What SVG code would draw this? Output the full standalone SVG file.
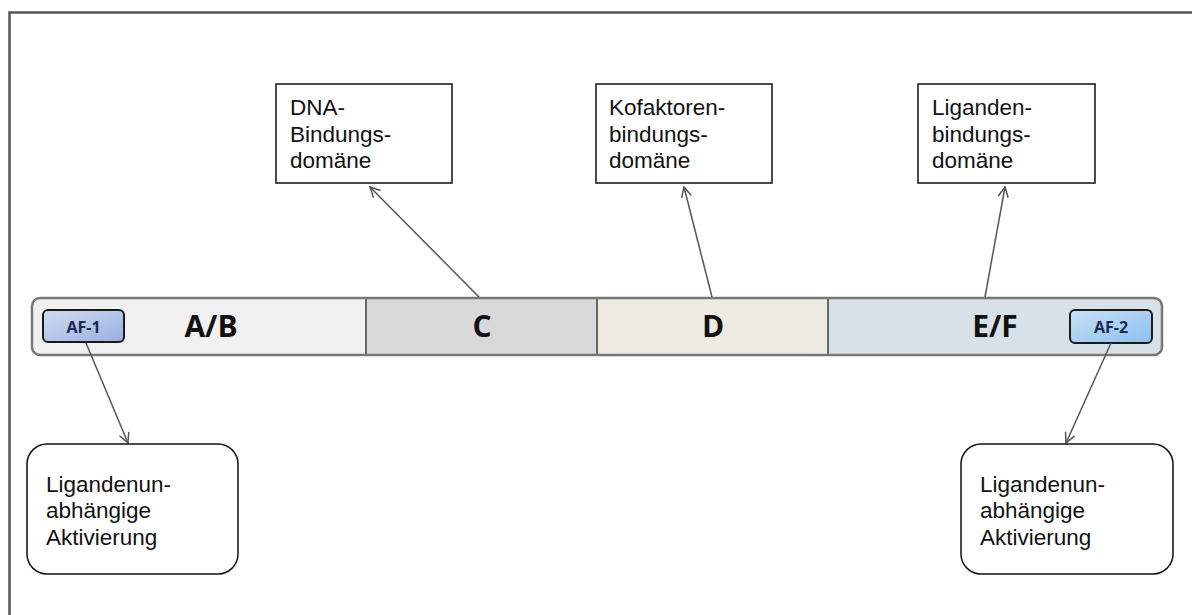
<svg xmlns="http://www.w3.org/2000/svg" width="1192" height="615" viewBox="0 0 1192 615">
<style>
.box{fill:#fff;stroke:#111;stroke-width:1.5}
.lbl{font-family:"Liberation Sans",Arial,sans-serif;font-size:22.5px;fill:#111}
.seg{font-family:"Open Sans","Liberation Sans",sans-serif;font-weight:bold;font-size:30px;fill:#111;text-anchor:middle}
.af{font-family:"Open Sans","Liberation Sans",sans-serif;font-weight:bold;font-size:16px;fill:#1a2a50;text-anchor:middle}
.afbox{stroke:#1a1a1a;stroke-width:2}
.conn line{stroke:#555;stroke-width:1.5;marker-end:url(#arr)}
</style>
<defs>
<marker id="arr" viewBox="0 0 12 12" refX="11" refY="6" markerWidth="12" markerHeight="12" markerUnits="userSpaceOnUse" orient="auto">
<path d="M1,1 L11,6 L1,11" fill="none" stroke="#555" stroke-width="1.5"/>
</marker>
<linearGradient id="g1" x1="0" y1="0" x2="1" y2="1">
<stop offset="0" stop-color="#d0dcf2"/><stop offset="1" stop-color="#98b0e0"/>
</linearGradient>
<linearGradient id="g2" x1="0" y1="0" x2="1" y2="1">
<stop offset="0" stop-color="#c8e0f6"/><stop offset="1" stop-color="#8cc0ee"/>
</linearGradient>
<clipPath id="barclip"><rect x="32" y="298" width="1130" height="57" rx="8"/></clipPath>
</defs>
<rect width="1192" height="615" fill="#fff"/>
<g id="frame"><path d="M9.5,615 L9.5,12.5 L1192,12.5" fill="none" stroke="#555" stroke-width="2.5"/></g>

<g id="bar">
<g clip-path="url(#barclip)">
<rect x="32" y="298" width="334" height="57" fill="#f0f0f0"/>
<rect x="366" y="298" width="231" height="57" fill="#d8d8d8"/>
<rect x="597" y="298" width="231" height="57" fill="#eeece2"/>
<rect x="828" y="298" width="334" height="57" fill="#d8e0e8"/>
</g>
<line x1="366" y1="298" x2="366" y2="355" stroke="#666" stroke-width="2"/>
<line x1="597" y1="298" x2="597" y2="355" stroke="#666" stroke-width="2"/>
<line x1="828" y1="298" x2="828" y2="355" stroke="#666" stroke-width="2"/>
<rect x="32" y="298" width="1130" height="57" rx="8" fill="none" stroke="#777" stroke-width="2.5"/>
</g>
<g id="seg-ab"><text class="seg" x="211" y="337">A/B</text></g>
<g id="seg-c"><text class="seg" x="482" y="337">C</text></g>
<g id="seg-d"><text class="seg" x="713" y="337">D</text></g>
<g id="seg-ef"><text class="seg" x="995" y="337">E/F</text></g>

<g id="af1"><rect class="afbox" x="43" y="310" width="81" height="32" rx="5" fill="url(#g1)"/><text class="af" x="83.5" y="333">AF-1</text></g>
<g id="af2"><rect class="afbox" x="1070" y="310" width="82" height="33" rx="5" fill="url(#g2)"/><text class="af" x="1111" y="333">AF-2</text></g>

<g class="conn" id="connectors">
<line x1="479" y1="297" x2="370" y2="187"/>
<line x1="712" y1="297" x2="684" y2="187"/>
<line x1="985" y1="297" x2="1005" y2="187"/>
<line x1="86" y1="343" x2="128" y2="443"/>
<line x1="1111" y1="343" x2="1066" y2="443"/>
</g>

<g id="dna"><rect class="box" x="276" y="84" width="176" height="99"/>
<text class="lbl" x="290" y="115">DNA-</text><text class="lbl" x="290" y="142">Bindungs-</text><text class="lbl" x="290" y="168">domäne</text></g>
<g id="kofaktor"><rect class="box" x="596" y="84" width="176" height="99"/>
<text class="lbl" x="609" y="115">Kofaktoren-</text><text class="lbl" x="609" y="142">bindungs-</text><text class="lbl" x="609" y="168">domäne</text></g>
<g id="liganden"><rect class="box" x="918" y="84" width="177" height="99"/>
<text class="lbl" x="932" y="115">Liganden-</text><text class="lbl" x="932" y="142">bindungs-</text><text class="lbl" x="932" y="168">domäne</text></g>

<g id="akt1"><rect class="box" x="27" y="444" width="211" height="130" rx="20"/>
<text class="lbl" x="46" y="492">Ligandenun-</text><text class="lbl" x="46" y="518">abhängige</text><text class="lbl" x="46" y="545">Aktivierung</text></g>
<g id="akt2"><rect class="box" x="961" y="444" width="212" height="130" rx="20"/>
<text class="lbl" x="980" y="492">Ligandenun-</text><text class="lbl" x="980" y="518">abhängige</text><text class="lbl" x="980" y="545">Aktivierung</text></g>
</svg>
